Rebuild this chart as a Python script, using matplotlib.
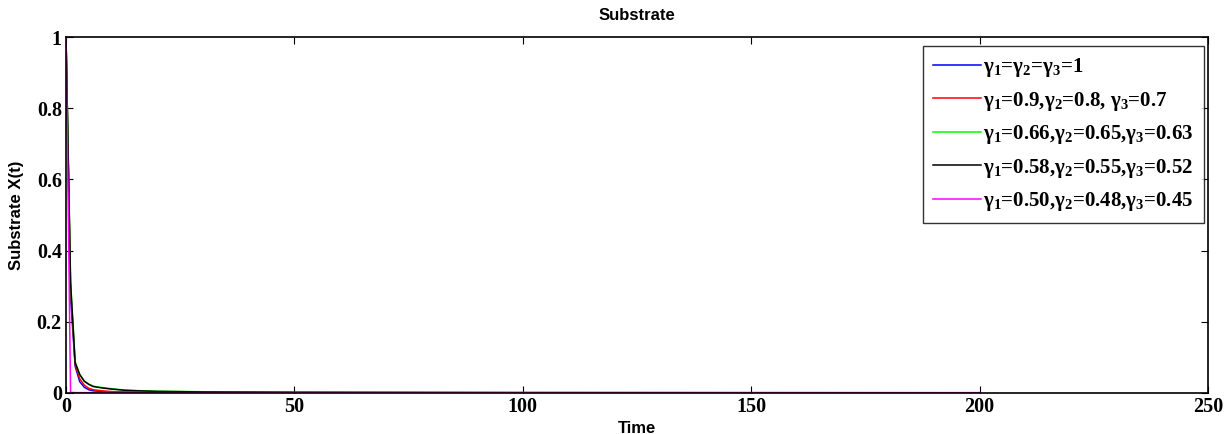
import matplotlib
matplotlib.use("Agg")
import matplotlib.pyplot as plt

# ---- data ----
time = [0, 1, 2, 3, 4, 5, 6, 8, 10, 13, 16, 20, 30, 50, 100, 150, 200]
x_g1 = [1, 0.27, 0.075, 0.032, 0.016, 0.009, 0.006, 0.004, 0.003, 0.002, 0.0015, 0.0012, 0.001, 0.0007, 0.0004, 0.0003, 0.0002]
x_g09 = [1, 0.29, 0.08, 0.04, 0.022, 0.013, 0.009, 0.006, 0.004, 0.003, 0.0022, 0.0017, 0.0012, 0.0008, 0.0005, 0.0004, 0.0003]
x_g066 = [1, 0.31, 0.088, 0.052, 0.034, 0.025, 0.019, 0.015, 0.012, 0.008, 0.0065, 0.005, 0.0035, 0.0022, 0.0012, 0.0008, 0.0006]
x_g058 = [1, 0.31, 0.085, 0.052, 0.033, 0.024, 0.018, 0.014, 0.011, 0.0075, 0.006, 0.0045, 0.003, 0.002, 0.0011, 0.0008, 0.0006]
x_g050 = [1, 0.002, 0.001, 0.001, 0.001, 0.001, 0.001, 0.001, 0.001, 0.001, 0.001, 0.001, 0.001, 0.001, 0.001, 0.001, 0.001]

labels = [
    r"γ$_1$=γ$_2$=γ$_3$=1",
    r"γ$_1$=0.9,γ$_2$=0.8, γ$_3$=0.7",
    r"γ$_1$=0.66,γ$_2$=0.65,γ$_3$=0.63",
    r"γ$_1$=0.58,γ$_2$=0.55,γ$_3$=0.52",
    r"γ$_1$=0.50,γ$_2$=0.48,γ$_3$=0.45",
]
series = [x_g1, x_g09, x_g066, x_g058, x_g050]
colors = ["#0000ff", "#ff0000", "#00ff00", "#000000", "#ff00ff"]

xticks = [0, 50, 100, 150, 200, 250]
yticks = [0, 0.2, 0.4, 0.6, 0.8, 1]
ytick_labels = ["0", "0.2", "0.4", "0.6", "0.8", "1"]

plt.rcParams["mathtext.fontset"] = "custom"
plt.rcParams["mathtext.default"] = "bf"
plt.rcParams["mathtext.bf"] = "Liberation Serif:bold"
plt.rcParams["mathtext.rm"] = "Liberation Serif:bold"

fig = plt.figure(figsize=(12.27, 4.34), dpi=100)
ax = fig.add_axes([0.0538, 0.0945, 0.9307, 0.8202])

for y, c, lab in zip(series, colors, labels):
    ax.plot(time, y, color=c, lw=1.1, label=lab)

ax.set_xlim(0, 250)
ax.set_ylim(0, 1)
ax.set_xticks(xticks)
ax.set_yticks(yticks)
ax.set_yticklabels(ytick_labels)

for t in ax.get_xticklabels() + ax.get_yticklabels():
    t.set_fontfamily("Liberation Serif")
    t.set_fontweight("bold")
    t.set_fontsize(14.5)

ax.tick_params(direction="in", length=5, width=0.8, top=True, right=True,
               colors="black", pad=3)
for s in ax.spines.values():
    s.set_linewidth(1.2)

ax.set_title("Substrate", fontfamily="Liberation Sans", fontweight="bold",
             fontsize=12, pad=12)
ax.set_xlabel("Time", fontfamily="Liberation Sans", fontweight="bold",
              fontsize=12, labelpad=3)
ax.set_ylabel("Substrate X(t)", fontfamily="Liberation Sans", fontweight="bold",
              fontsize=12, labelpad=9)

leg = ax.legend(loc="upper right", bbox_to_anchor=(0.9965, 0.975),
                prop=dict(family="Liberation Serif", weight="bold", size=15),
                frameon=True, fancybox=False, edgecolor="black",
                handlelength=2.3, handletextpad=0.1, labelspacing=0.5,
                borderpad=0.5, borderaxespad=0)
leg.get_frame().set_linewidth(1.0)

fig.savefig("out.png", dpi=100)
